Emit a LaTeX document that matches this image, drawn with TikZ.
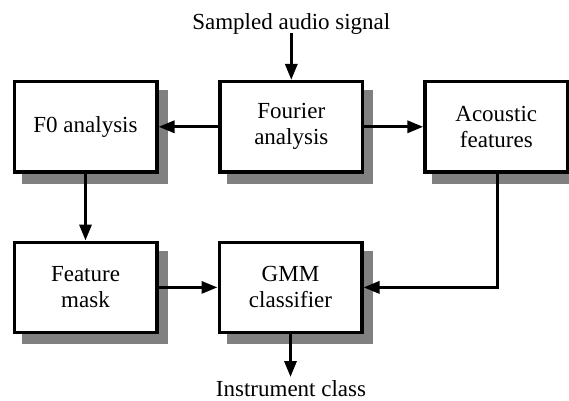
\documentclass[tikz,border=0pt]{standalone}
\usepackage{fontspec}
\setmainfont{Liberation Serif}
\usetikzlibrary{arrows.meta,shadows}
\begin{document}
\begin{tikzpicture}[x=1pt,y=-1pt,
  blk/.style={draw=black, line width=3.4pt, fill=white, minimum width=142.6pt, minimum height=90.4pt,
    align=center, font=\fontsize{23}{26}\selectfont, inner sep=0pt,
    drop shadow={shadow xshift=9pt, shadow yshift=-10pt, fill=black!50, draw=black!50, line width=3.4pt, opacity=1}},
  lbl/.style={font=\fontsize{23}{26}\selectfont, inner sep=0pt},
  arr/.style={line width=3.2pt, -{Triangle[length=16pt,width=12pt]}}]
\useasboundingbox (0,0) rectangle (569,400);
\node[blk] (f0) at (85.5,126.8) {F0 analysis};
\node[blk] (four) at (291.3,126.8) {Fourier\\analysis};
\node[blk] (ac) at (496.3,126.8) {Acoustic\\features};
\node[blk] (fm) at (85.5,287.4) {Feature\\mask};
\node[blk] (gmm) at (290.5,287.4) {GMM\\classifier};
\node[lbl, anchor=base] (in) at (291.3,29.5) {Sampled audio signal};
\node[lbl, anchor=base] (out) at (291,396) {Instrument class};
\coordinate (inb) at (291.3,33);
\coordinate (outt) at (290.5,377);
\coordinate (c1) at (497.5,287.4);
\draw[arr] (inb) -- (four.north);
\draw[arr] (four.west) -- (f0.east);
\draw[arr] (four.east) -- (ac.west);
\draw[arr] (f0.south) -- (fm.north);
\draw[arr] (fm.east) -- (gmm.west);
\draw[arr] (ac.south -| c1) -- (c1) -- (gmm.east);
\draw[arr] (gmm.south) -- (outt);
\end{tikzpicture}
\end{document}
